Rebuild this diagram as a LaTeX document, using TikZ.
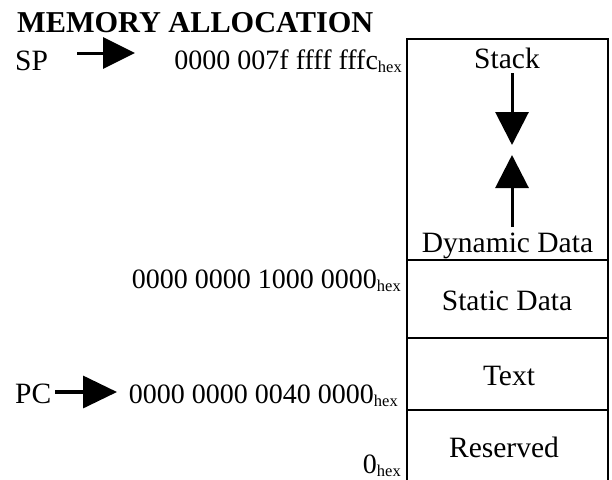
\documentclass[tikz,border=0pt]{standalone}
\usepackage{fontspec}
\setmainfont{Liberation Serif}
\usetikzlibrary{arrows.meta}
\newcommand\hexsub{\raisebox{-3pt}{\fontsize{16.5}{16.5}\selectfont hex}}
\begin{document}
\begin{tikzpicture}[x=1pt,y=-1pt,
  lbl/.style={inner sep=0pt, font=\fontsize{29.5}{32}\selectfont},
  addr/.style={inner sep=0pt, anchor=base east, font=\fontsize{28}{30}\selectfont},
  region/.style={draw, line width=2pt, minimum width=201pt, inner sep=0pt},
  bigarrow/.style={line width=3pt, -{Triangle[length=33pt,width=33pt]}}]
\useasboundingbox (0,0) rectangle (612,479);
% title
\node[lbl, anchor=base west, font=\bfseries\fontsize{30.3}{33}\selectfont] (title) at (17,32) {MEMORY ALLOCATION};
% memory regions
\node[region, minimum height=221pt] (stack) at (507.5,149.5) {};
\node[region, minimum height=78pt] (static) at (507.5,299) {};
\node[region, minimum height=72pt] (text) at (507.5,374) {};
\node[region, minimum height=100pt] (reserved) at (507.5,460) {};
% region labels
\node[lbl, anchor=base] (stacklbl) at (507,68) {Stack};
\node[lbl, anchor=base] (dynlbl) at (507.5,252) {Dynamic Data};
\node[lbl, anchor=base] (staticlbl) at (507,310) {Static Data};
\node[lbl, anchor=base] (textlbl) at (509,385) {Text};
\node[lbl, anchor=base] (reslbl) at (504,457) {Reserved};
% stack / heap arrows
\coordinate (d1) at (512,73);
\coordinate (d2) at (512,145);
\coordinate (u1) at (512,227);
\coordinate (u2) at (512,155);
\draw[bigarrow] (d1) -- (d2);
\draw[bigarrow] (u1) -- (u2);
% addresses
\node[addr] (addrsp) at (402,69) {0000 007f ffff fffc\hexsub};
\node[addr] (addrst) at (401,288) {0000 0000 1000 0000\hexsub};
\node[addr] (addrpc) at (398,403) {0000 0000 0040 0000\hexsub};
\node[addr] (addr0) at (401,473) {0\hexsub};
% pointers
\node[lbl, anchor=base west] (sp) at (15,70) {SP};
\node[lbl, anchor=base west] (pc) at (15,403) {PC};
\coordinate (spa) at (77,53);
\coordinate (spb) at (135,53);
\coordinate (pca) at (55,392);
\coordinate (pcb) at (117,392);
\draw[line width=3pt, -{Triangle[length=32pt,width=31pt]}] (spa) -- (spb);
\draw[line width=3.5pt, -{Triangle[length=34pt,width=32pt]}] (pca) -- (pcb);
\end{tikzpicture}
\end{document}
